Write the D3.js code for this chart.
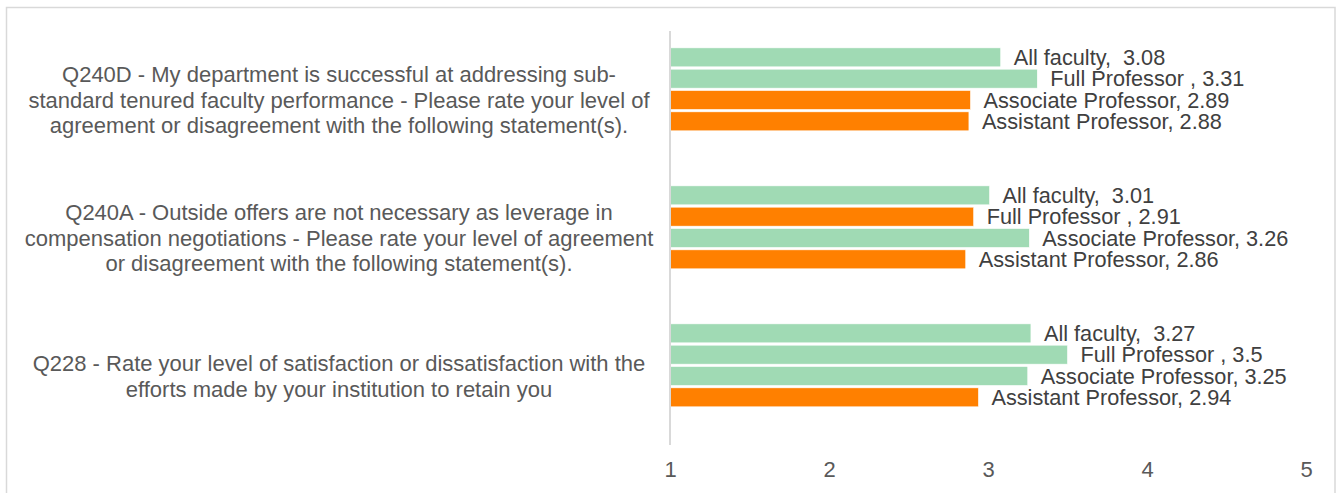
<!DOCTYPE html>
<html>
<head>
<meta charset="utf-8">
<script src="https://cdn.jsdelivr.net/npm/d3@7"></script>
<style>
  html, body { margin: 0; padding: 0; background: #fff; }
  svg { display: block; }
  text { font-family: "Liberation Sans", Arial, sans-serif; white-space: pre; }
</style>
</head>
<body>
<svg id="chart" width="1338" height="493"></svg>
<script>
// ---- data ----
const categories = ["Q240D", "Q240A", "Q228"];
const categoryLines = [
  ["Q240D - My department is successful at addressing sub-",
   "standard tenured faculty performance - Please rate your level of",
   "agreement or disagreement with the following statement(s)."],
  ["Q240A - Outside offers are not necessary as leverage in",
   "compensation negotiations - Please rate your level of agreement",
   "or disagreement with the following statement(s)."],
  ["Q228 - Rate your level of satisfaction or dissatisfaction with the",
   "efforts made by your institution to retain you"]
];
const seriesNames = ["All faculty", "Full Professor", "Associate Professor", "Assistant Professor"];
const seriesLabelPrefix = ["All faculty,  ", "Full Professor , ", "Associate Professor, ", "Assistant Professor, "];
const allFaculty = [3.08, 3.01, 3.27];
const fullProfessor = [3.31, 2.91, 3.5];
const associateProfessor = [2.89, 3.26, 3.25];
const assistantProfessor = [2.88, 2.86, 2.94];
const seriesValues = [allFaculty, fullProfessor, associateProfessor, assistantProfessor];
const xTicks = [1, 2, 3, 4, 5];
const threshold = 3;

// ---- layout ----
const svg = d3.select("#chart");
const plotTop = 31, plotBottom = 445, plotLeft = 670, plotRight = 1306;
const green = "#a0dab4", orange = "#ff8000";

svg.append("rect")
  .attr("x", 6.5).attr("y", 7.5).attr("width", 1328.5).attr("height", 500)
  .attr("fill", "#fff").attr("stroke", "#d9d9d9").attr("stroke-width", 1.5);

const x = d3.scaleLinear().domain([1, 5]).range([plotLeft, plotRight]);
const y0 = d3.scaleBand().domain(categories).range([plotTop, plotBottom]);
const y1 = d3.scaleBand().domain(d3.range(seriesNames.length + 1))
  .range([0, y0.bandwidth()]).paddingInner(0.11).paddingOuter(0.79);

// bars
const barData = [];
categories.forEach((c, ci) => {
  seriesNames.forEach((s, si) => {
    barData.push({ cat: c, si, value: seriesValues[si][ci] });
  });
});

const g = svg.append("g");
g.selectAll("rect.bar").data(barData).join("rect")
  .attr("class", "bar")
  .attr("x", x(1))
  .attr("y", d => y0(d.cat) + y1(d.si))
  .attr("width", d => x(d.value) - x(1))
  .attr("height", y1.bandwidth())
  .attr("fill", d => d.value >= threshold ? green : orange)
  .attr("stroke", "#fff").attr("stroke-width", 0.6);

g.selectAll("text.lbl").data(barData).join("text")
  .attr("class", "lbl")
  .attr("x", d => x(d.value) + 13)
  .attr("y", d => y0(d.cat) + y1(d.si) + y1.bandwidth() / 2)
  .attr("dy", "0.36em")
  .attr("font-size", 21.7)
  .attr("fill", "#404040")
  .text(d => seriesLabelPrefix[d.si] + d.value);

// vertical axis line
svg.append("line")
  .attr("x1", x(1)).attr("x2", x(1))
  .attr("y1", plotTop).attr("y2", plotBottom)
  .attr("stroke", "#d9d9d9").attr("stroke-width", 2);

// category labels
const lineH = 25.5;
categories.forEach((c, ci) => {
  const lines = categoryLines[ci];
  const cy = y0(c) + y0.bandwidth() / 2;
  const t = svg.append("text")
    .attr("text-anchor", "middle")
    .attr("font-size", 22)
    .attr("fill", "#595959");
  lines.forEach((ln, li) => {
    t.append("tspan")
      .attr("x", 339)
      .attr("y", cy + (li - (lines.length - 1) / 2) * lineH)
      .attr("dy", "0.36em")
      .text(ln);
  });
});

// x tick labels
const xAxis = d3.axisBottom(x).tickValues(xTicks).tickSize(0).tickPadding(0).tickFormat(d3.format("d"));
const ax = svg.append("g").attr("transform", `translate(0, ${461})`).call(xAxis);
ax.select(".domain").remove();
ax.selectAll("text")
  .attr("font-family", "Liberation Sans, Arial, sans-serif")
  .attr("font-size", 22)
  .attr("fill", "#595959");
</script>
</body>
</html>
